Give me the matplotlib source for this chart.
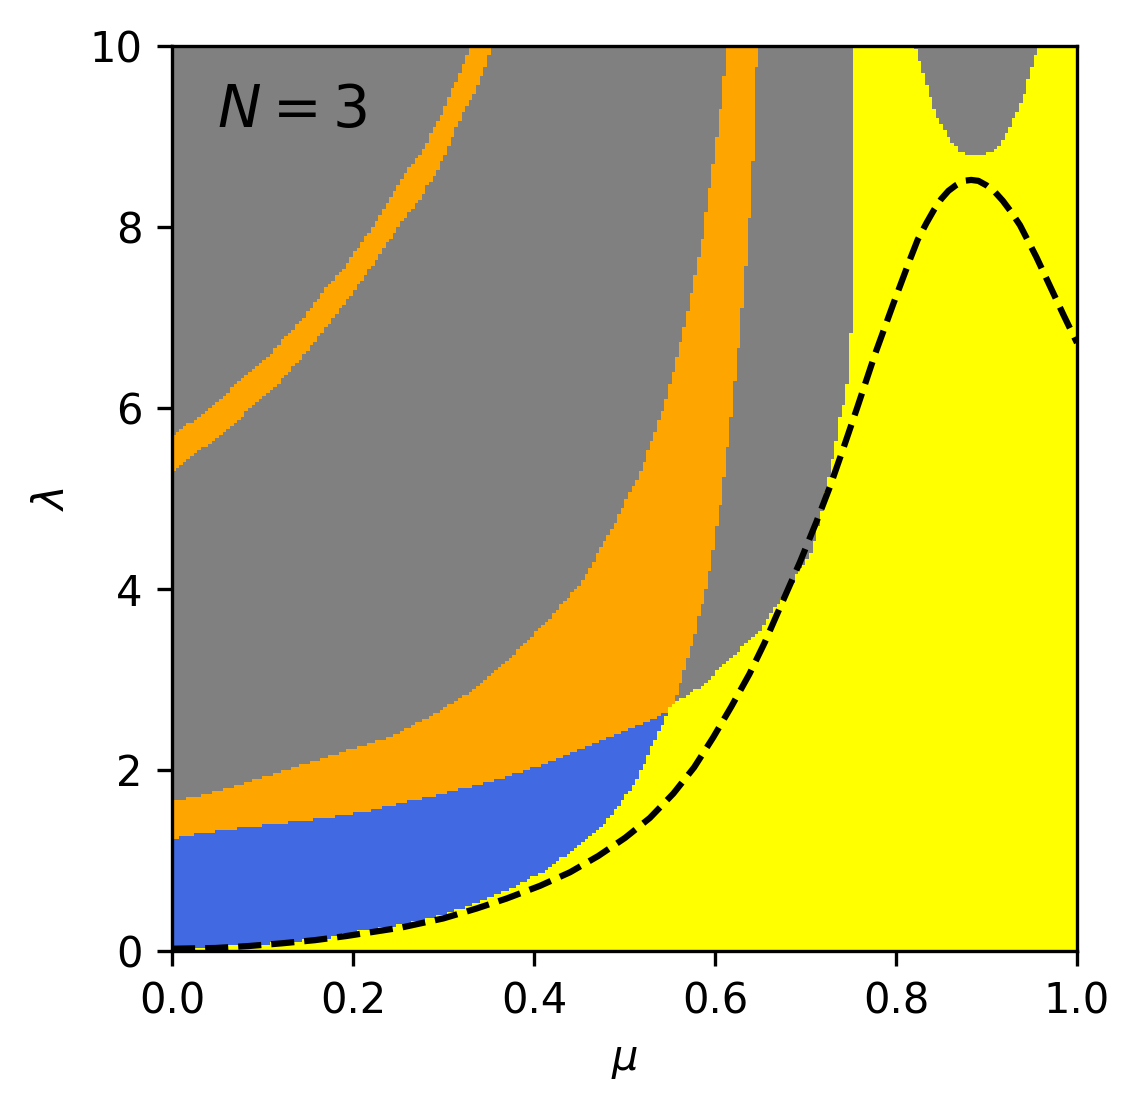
import numpy as np
import matplotlib
matplotlib.use('Agg')
import matplotlib.pyplot as plt
from matplotlib.colors import ListedColormap

# phase boundaries (mu, lambda)

# top of the yellow region (left part, up to the vertical wall at mu ~ 0.752)
yel_mu = [0.0, 0.037, 0.063, 0.0994, 0.136, 0.173, 0.21, 0.243, 0.276, 0.307, 0.344, 0.381,
          0.410, 0.436, 0.458, 0.4766, 0.4914, 0.506, 0.517, 0.528, 0.537, 0.5466, 0.550,
          0.554, 0.5687, 0.5834, 0.5981, 0.6129, 0.6276, 0.6405, 0.6534, 0.6644, 0.6737,
          0.6847, 0.6932, 0.7013, 0.7087, 0.716, 0.7204, 0.7252, 0.7296, 0.7337, 0.7374,
          0.741, 0.745, 0.749, 0.7515, 0.7525]
yel_lam = [0.03, 0.04, 0.066, 0.077, 0.11, 0.147, 0.23, 0.27, 0.34, 0.43, 0.56, 0.73,
           0.88, 1.06, 1.23, 1.39, 1.58, 1.78, 1.96, 2.22, 2.40, 2.61, 2.70,
           2.75, 2.83, 2.92, 3.05, 3.18, 3.33, 3.44, 3.58, 3.77, 3.88,
           4.06, 4.21, 4.32, 4.47, 4.78, 4.98, 5.20, 5.41, 5.61, 5.87,
           6.0, 6.17, 6.58, 7.21, 12.0]

# gray cap at the top right (yellow below it)
cap_mu = [0.7525, 0.818, 0.821, 0.830, 0.836, 0.8405, 0.8486, 0.8597, 0.8689, 0.876, 0.900,
          0.9075, 0.9186, 0.9285, 0.9363, 0.9433, 0.948, 0.9536, 0.956, 0.959, 1.0]
cap_lam = [12.0, 12.0, 10.0, 9.70, 9.51, 9.33, 9.15, 8.96, 8.85, 8.81, 8.81,
           8.85, 8.96, 9.15, 9.33, 9.51, 9.70, 9.88, 10.0, 12.0, 12.0]

# top of the blue region
blue_mu = [0.0, 0.042, 0.105, 0.164, 0.224, 0.252, 0.2925, 0.3367, 0.381, 0.4177, 0.458,
           0.495, 0.532, 0.548, 0.552]
blue_lam = [1.24, 1.31, 1.39, 1.46, 1.56, 1.63, 1.72, 1.83, 1.96, 2.09, 2.26,
            2.42, 2.57, 2.66, 2.69]

# top / left edge of the large orange region
org_mu = [0.0, 0.034, 0.065, 0.105, 0.145, 0.184, 0.224, 0.252, 0.291, 0.319, 0.343, 0.366,
          0.390, 0.406, 0.422, 0.434, 0.448, 0.459, 0.471, 0.481, 0.491, 0.499, 0.505,
          0.5135, 0.521, 0.5297, 0.5378, 0.5459, 0.5532, 0.5613, 0.5694, 0.5768, 0.5856,
          0.5930, 0.6011, 0.6055, 0.6092, 0.6129, 0.62, 1.0]
org_lam = [1.65, 1.72, 1.81, 1.93, 2.06, 2.19, 2.31, 2.42, 2.63, 2.80, 2.96, 3.17,
           3.39, 3.56, 3.72, 3.87, 4.02, 4.17, 4.41, 4.59, 4.76, 4.93, 5.05,
           5.19, 5.39, 5.62, 5.86, 6.09, 6.38, 6.70, 7.05, 7.41, 7.85,
           8.36, 8.92, 9.24, 9.57, 10.0, 12.0, 12.0]

# right / lower edge of the large orange region (gray to the right)
orr_mu = [0.5532, 0.5569, 0.5613, 0.565, 0.5687, 0.5731, 0.577, 0.581, 0.5853, 0.5893,
          0.5934, 0.5974, 0.601, 0.6055, 0.609, 0.6129, 0.6166, 0.6202, 0.6250, 0.6287,
          0.6331, 0.6372, 0.6409, 0.6453, 0.649, 1.0]
orr_lam = [2.70, 2.81, 2.94, 3.05, 3.18, 3.34, 3.45, 3.66, 3.82, 3.95,
           4.17, 4.41, 4.65, 4.89, 5.17, 5.47, 5.78, 6.13, 6.54, 6.97,
           7.45, 7.97, 8.56, 9.24, 12.0, 12.0]

# thin orange band, upper-left edge
bu_mu = [0.0, 0.022, 0.044, 0.066, 0.0847, 0.1068, 0.118, 0.14, 0.1547, 0.173, 0.188, 0.206,
         0.221, 0.2357, 0.250, 0.262, 0.2777, 0.286, 0.298, 0.306, 0.318, 0.3304, 0.335, 1.0]
bu_lam = [5.67, 5.85, 6.01, 6.22, 6.38, 6.57, 6.71, 6.94, 7.12, 7.36, 7.52, 7.78,
          7.99, 8.22, 8.48, 8.67, 8.85, 9.03, 9.22, 9.44, 9.70, 10.0, 12.0, 12.0]

# thin orange band, lower-right edge
bl_mu = [0.0, 0.0074, 0.026, 0.044, 0.066, 0.0847, 0.1068, 0.125, 0.147, 0.162, 0.1768,
         0.195, 0.2136, 0.228, 0.243, 0.258, 0.2666, 0.274, 0.2814, 0.2895, 0.298, 0.306,
         0.3146, 0.3212, 0.3293, 0.3378, 0.3459, 0.3532, 0.358, 1.0]
bl_lam = [5.30, 5.33, 5.50, 5.62, 5.80, 5.98, 6.16, 6.35, 6.60, 6.79, 6.97,
          7.21, 7.45, 7.67, 7.89, 8.11, 8.21, 8.30, 8.45, 8.56, 8.72, 8.89,
          9.11, 9.24, 9.40, 9.55, 9.75, 10.0, 12.0, 12.0]

# dashed curve
dash_mu = [0.0, 0.048, 0.085, 0.1215, 0.158, 0.193, 0.228, 0.2538, 0.2998, 0.3367, 0.3698,
           0.4066, 0.4398, 0.471, 0.5006, 0.528, 0.554, 0.577, 0.598, 0.618, 0.638, 0.655,
           0.672, 0.694, 0.712, 0.727, 0.742, 0.757, 0.777, 0.797, 0.815, 0.824, 0.834,
           0.842, 0.850, 0.858, 0.866, 0.875, 0.883, 0.891, 0.900, 0.909, 0.918, 0.927,
           0.937, 0.955, 0.970, 0.985, 1.0]
dash_lam = [0.025, 0.033, 0.055, 0.085, 0.12, 0.166, 0.22, 0.26, 0.36, 0.47, 0.58,
            0.72, 0.87, 1.05, 1.25, 1.47, 1.74, 2.03, 2.36, 2.70, 3.06, 3.41,
            3.80, 4.30, 4.74, 5.13, 5.56, 6.00, 6.60, 7.15, 7.63, 7.86, 8.05,
            8.19, 8.31, 8.40, 8.46, 8.51, 8.52, 8.51, 8.46, 8.39, 8.29, 8.17,
            8.02, 7.67, 7.35, 7.03, 6.72]

# build the phase map on a coarse grid (0 gray, 1 orange, 2 blue, 3 yellow)
nmu, nlam = 250, 300
mu = (np.arange(nmu) + 0.5) / nmu
lam = (np.arange(nlam) + 0.5) / nlam * 10
M, L = np.meshgrid(mu, lam)

y_top = np.where(mu < 0.7525, np.interp(mu, yel_mu, yel_lam), np.interp(mu, cap_mu, cap_lam))
b_top = np.where(mu < 0.552, np.interp(mu, blue_mu, blue_lam), -1.0)
o_top = np.interp(mu, org_mu, org_lam)
o_low = np.where(mu < 0.5532, -1.0, np.interp(mu, orr_mu, orr_lam))
t_up = np.interp(mu, bu_mu, bu_lam)
t_lo = np.interp(mu, bl_mu, bl_lam)

phase = np.zeros_like(M, dtype=int)
phase[(L < o_top) & (L >= o_low)] = 1
phase[(L > t_lo) & (L < t_up)] = 1
phase[L < b_top] = 2
phase[L < y_top] = 3

cmap = ListedColormap(['gray', 'orange', 'royalblue', 'yellow'])

fig = plt.figure(figsize=(1139 / 300, 1112 / 300), dpi=300)
ax = fig.add_axes([172 / 1139, 161 / 1112, 905 / 1139, 905 / 1112])
ax.imshow(phase, origin='lower', extent=[0, 1, 0, 10], aspect='auto',
          interpolation='nearest', cmap=cmap, vmin=-0.5, vmax=3.5)
ax.plot(dash_mu, dash_lam, 'k--', lw=1.5)
ax.text(0.05, 9.1, r'$N=3$', fontsize=14)
ax.set_xlim(0, 1)
ax.set_ylim(0, 10)
ax.set_xticks([0.0, 0.2, 0.4, 0.6, 0.8, 1.0])
ax.set_yticks([0, 2, 4, 6, 8, 10])
ax.set_xlabel(r'$\mu$')
ax.set_ylabel(r'$\lambda$')
fig.savefig('out.png', dpi=300)
